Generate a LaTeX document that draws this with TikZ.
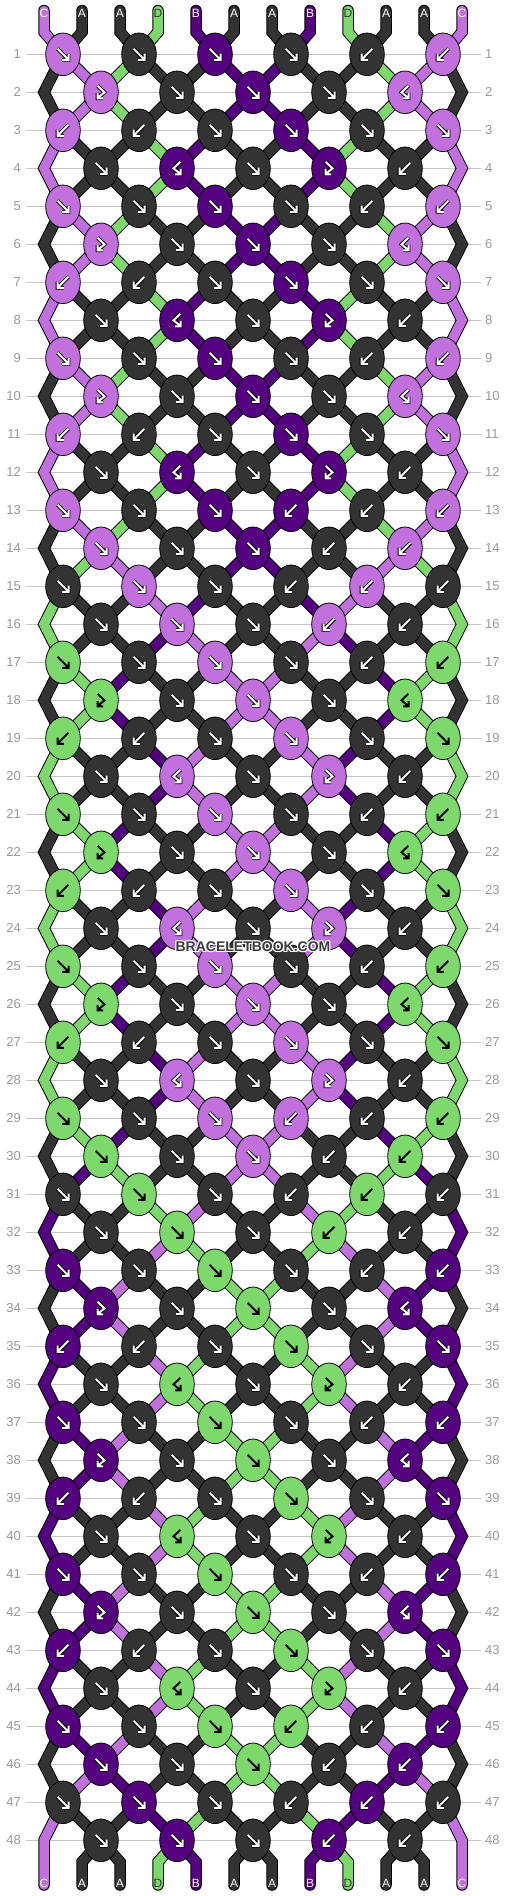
\documentclass[tikz,border=0pt]{standalone}
\usepackage{fontspec}
\setmainfont{Liberation Sans}
\usetikzlibrary{shapes.geometric}
\definecolor{colA}{HTML}{333333}
\definecolor{colB}{HTML}{550080}
\definecolor{colC}{HTML}{C170DD}
\definecolor{colD}{HTML}{7ED96C}
\definecolor{gridgray}{HTML}{C6C6C6}
\definecolor{numgray}{HTML}{999999}
\definecolor{wmgray}{HTML}{3C3C3C}
\newcommand\setg[2]{\expandafter\xdef\csname #1\endcsname{#2}}
\newcommand\getv[1]{\csname #1\endcsname}
\newcommand\drawstrand[2]{%
    \draw[strandedge] #2;
    \draw[strandfill, draw=#1] #2;}
\def\gpF{(-5.5,-5.5) -- (4.6,4.6) (-0.8,5.5) -- (5.5,5.5) -- (5.5,-0.8)}
\def\gpB{(5.5,-5.5) -- (-4.6,4.6) (0.8,5.5) -- (-5.5,5.5) -- (-5.5,-0.8)}
\def\gpf{(-3.5,-6.5) -- (3.5,0) -- (-3,5.5) (2,6) -- (-3.5,6) -- (-3.5,0.5)}
\def\gpb{(3.5,-6.5) -- (-3.5,0) -- (3,5.5) (-2,6) -- (3.5,6) -- (3.5,0.5)}
\def\colDname{colD}
\def\ltrcolA{A}\def\ltrcolB{B}\def\ltrcolC{C}\def\ltrcolD{D}
\def\rowlist{
 1/{F,F,F,F,B,B}, 2/{f,F,F,F,b}, 3/{B,B,F,F,F,F}, 4/{F,b,F,f,B},
 5/{F,F,F,F,B,B}, 6/{f,F,F,F,b}, 7/{B,B,F,F,F,F}, 8/{F,b,F,f,B},
 9/{F,F,F,F,B,B},10/{f,F,F,F,b},11/{B,B,F,F,F,F},12/{F,b,F,f,B},
13/{F,F,F,B,B,B},14/{F,F,F,B,B},15/{F,F,F,B,B,B},16/{F,F,F,B,B},
17/{F,F,F,F,B,B},18/{f,F,F,F,b},19/{B,B,F,F,F,F},20/{F,b,F,f,B},
21/{F,F,F,F,B,B},22/{f,F,F,F,b},23/{B,B,F,F,F,F},24/{F,b,F,f,B},
25/{F,F,F,F,B,B},26/{f,F,F,F,b},27/{B,B,F,F,F,F},28/{F,b,F,f,B},
29/{F,F,F,B,B,B},30/{F,F,F,B,B},31/{F,F,F,B,B,B},32/{F,F,F,B,B},
33/{F,F,F,F,B,B},34/{f,F,F,F,b},35/{B,B,F,F,F,F},36/{F,b,F,f,B},
37/{F,F,F,F,B,B},38/{f,F,F,F,b},39/{B,B,F,F,F,F},40/{F,b,F,f,B},
41/{F,F,F,F,B,B},42/{f,F,F,F,b},43/{B,B,F,F,F,F},44/{F,b,F,f,B},
45/{F,F,F,B,B,B},46/{F,F,F,B,B},47/{F,F,F,B,B,B},48/{F,F,F,B,B}}
\tikzset{
  strandedge/.style={line width=11.5pt, draw=black, line cap=round, line join=miter},
  strandfill/.style={line width=9.5pt, line cap=round, line join=miter},
  knot/.style={ellipse, draw=black, line width=0.8pt, minimum width=34.6pt, minimum height=42.6pt, inner sep=0pt},
  gridline/.style={draw=gridgray, line width=1pt},
  rownum/.style={text=numgray, font=\fontsize{13}{13}\selectfont, inner sep=0pt},
  endlabel/.style={font=\fontsize{12}{12}\selectfont, inner sep=0pt},
  arrowedge/.style={draw=black, line width=3.8pt, line join=miter},
  arrowfill/.style={line width=2pt, line join=miter},
  wm/.style={font=\bfseries\fontsize{14}{14}\selectfont, inner sep=0pt},
}
\begin{document}
\begin{tikzpicture}[x=1pt,y=-1pt]
\useasboundingbox (0,0) rectangle (506,1896);
\fill[white] (0,0) rectangle (506,1896);
\foreach \r in {1,...,48}{
  \pgfmathsetmacro\y{54.3+38*(\r-1)}
  \coordinate (gl\r) at (26,\y);
  \coordinate (gr\r) at (481,\y);
  \draw[gridline] (gl\r) -- (gr\r);
  \node[rownum, anchor=east] (nl\r) at (21,\y) {\r};
  \node[rownum, anchor=west] (nr\r) at (485,\y) {\r};
}
% initial strings
\foreach \p/\c in {0/colC,1/colA,2/colA,3/colD,4/colB,5/colA,6/colA,7/colB,8/colD,9/colA,10/colA,11/colC}{
  \pgfmathsetmacro\xx{44+38*\p}
  \coordinate (t\p) at (\xx,10.5);
  \coordinate (u\p) at (\xx,32);
  \setg{sc\p}{\c}
  \setg{ic\p}{\c}
  \setg{pv\p}{(t\p) -- (u\p)}
}
% pass 1: strands
\foreach \r/\tl in \rowlist {
  \pgfmathsetmacro\y{54.3+38*(\r-1)}
  \ifodd\r\relax\else
    \coordinate (e\r L) at (44,\y);
    \coordinate (e\r R) at (462,\y);
    \setg{pv0}{\getv{pv0} -- (e\r L)}
    \setg{pv11}{\getv{pv11} -- (e\r R)}
  \fi
  \foreach \tp [count=\k from 0] in \tl {
    \ifodd\r\relax
      \pgfmathtruncatemacro\a{2*\k}
      \pgfmathsetmacro\xx{63+76*\k}
    \else
      \pgfmathtruncatemacro\a{2*\k+1}
      \pgfmathsetmacro\xx{101+76*\k}
    \fi
    \pgfmathtruncatemacro\b{\a+1}
    \coordinate (c\r-\k) at (\xx,\y);
    \edef\ca{\getv{sc\a}}
    \edef\cb{\getv{sc\b}}
    \edef\kc{\cb}
    \if\tp F\edef\kc{\ca}\fi
    \if\tp f\edef\kc{\ca}\fi
    \setg{kc\r-\k}{\kc}
    \edef\tmp{\noexpand\drawstrand{\ca}{\getv{pv\a} -- (c\r-\k)}}\tmp
    \edef\tmp{\noexpand\drawstrand{\cb}{\getv{pv\b} -- (c\r-\k)}}\tmp
    \setg{pv\a}{(c\r-\k)}
    \setg{pv\b}{(c\r-\k)}
    \if\tp F\setg{sc\a}{\cb}\setg{sc\b}{\ca}\fi
    \if\tp B\setg{sc\a}{\cb}\setg{sc\b}{\ca}\fi
  }
}
% bottom ends and end labels
\foreach \p in {0,...,11}{
  \pgfmathsetmacro\xx{44+38*\p}
  \coordinate (v\p) at (\xx,1862);
  \coordinate (w\p) at (\xx,1885);
  \edef\tmp{\noexpand\drawstrand{\getv{sc\p}}{\getv{pv\p} -- (v\p) -- (w\p)}}\tmp
  \edef\cc{\getv{sc\p}}
  \def\tx{white}
  \ifx\cc\colDname\def\tx{colA}\fi
  \node[endlabel, text=\tx] (lb\p) at (\xx,1883) {\getv{ltr\cc}};
  \edef\cc{\getv{ic\p}}
  \def\tx{white}
  \ifx\cc\colDname\def\tx{colA}\fi
  \node[endlabel, text=\tx] (lt\p) at (\xx,13) {\getv{ltr\cc}};
}
% pass 2: knots
\foreach \r/\tl in \rowlist {
  \foreach \tp [count=\k from 0] in \tl {
    \edef\kc{\getv{kc\r-\k}}
    \node[knot, fill=\kc] (k\r-\k) at (c\r-\k) {};
    \edef\gp{\getv{gp\tp}}
    \begin{scope}[shift={(k\r-\k.center)}]
      \ifx\kc\colDname
        \edef\tmp{\noexpand\draw[arrowfill, draw=black] \gp;}\tmp
      \else
        \edef\tmp{\noexpand\draw[arrowedge] \gp; \noexpand\draw[arrowfill, draw=white] \gp;}\tmp
      \fi
    \end{scope}
  }
}
% watermark
\foreach \dx/\dy [count=\i] in {-1/-1,0/-1,1/-1,-1/0,1/0,-1/1,0/1,1/1}{
  \node[wm, text=white] (wmh\i) at (253+\dx,947+\dy) {BRACELETBOOK.COM};
}
\node[wm, text=wmgray] (wm) at (253,947) {BRACELETBOOK.COM};
\end{tikzpicture}
\end{document}
